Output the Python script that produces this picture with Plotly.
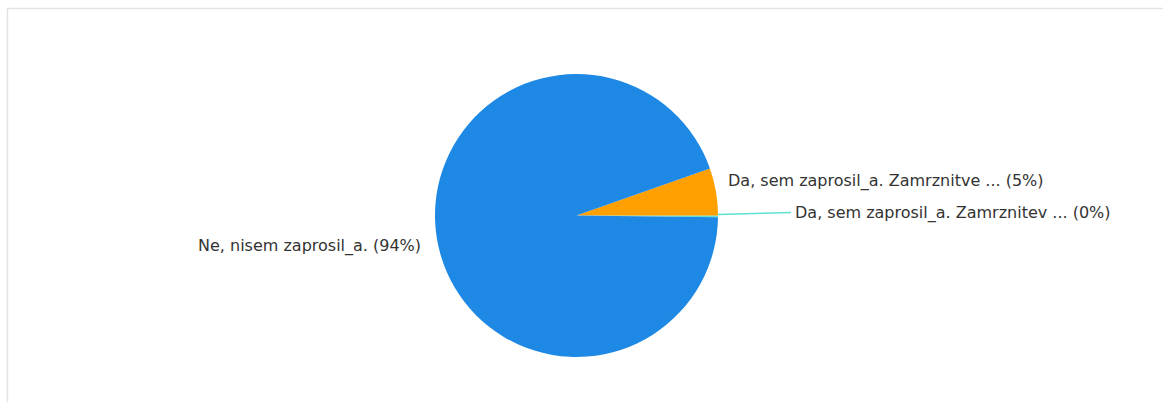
import math
import plotly.graph_objects as go

labels = ["Da, sem zaprosil_a. Zamrznitev ...", "Da, sem zaprosil_a. Zamrznitve ...", "Ne, nisem zaprosil_a."]
values = [0.2, 5.4, 94.4]
colors = ["#5fe0d0", "#ffa000", "#1e88e5"]

W, H = 1163, 402
cx, cy, r = 576.5, 215.5, 141.5

fig = go.Figure(go.Pie(
    labels=labels, values=values, sort=False, direction="counterclockwise",
    rotation=90, textinfo="none", hoverinfo="label+percent",
    marker=dict(colors=colors, line=dict(width=0)),
    domain=dict(x=[(cx - r) / W, (cx + r) / W], y=[(H - cy - r) / H, (H - cy + r) / H]),
    showlegend=False,
))

total = sum(values)
pcts = [round(v / total * 100) for v in values]

def px(x):
    return x / W

def py(y):
    return (H - y) / H

font = dict(family="DejaVu Sans, Verdana, sans-serif", size=16, color="#333333")

# mid-angles from data (counterclockwise from 3 o'clock)
cum = 0
mids = []
for v in values:
    a0 = cum / total * 360
    cum += v
    a1 = cum / total * 360
    mids.append((a0 + a1) / 2)

anns = []
shapes = []
# tiny slice: leader line to the right
a = math.radians(mids[0])
ex, ey = cx + r * math.cos(a), cy - r * math.sin(a)
shapes.append(dict(type="line", xref="paper", yref="paper", x0=px(ex), y0=py(ey),
                   x1=px(791), y1=py(212.5), line=dict(color=colors[0], width=1.5)))
anns.append(dict(x=px(793), y=py(213), xref="paper", yref="paper", xanchor="left", yanchor="middle",
                 text=f"{labels[0]} ({pcts[0]}%)", showarrow=False, font=font))
# orange slice label
anns.append(dict(x=px(725.5), y=py(181), xref="paper", yref="paper", xanchor="left", yanchor="middle",
                 text=f"{labels[1]} ({pcts[1]}%)", showarrow=False, font=font))
# blue slice label on the left
anns.append(dict(x=px(423), y=py(246), xref="paper", yref="paper", xanchor="right", yanchor="middle",
                 text=f"{labels[2]} ({pcts[2]}%)", showarrow=False, font=font))

# frame lines
shapes.append(dict(type="line", xref="paper", yref="paper", x0=px(7), y0=py(8.5), x1=1, y1=py(8.5),
                   line=dict(color="#e3e3e3", width=1.5)))
shapes.append(dict(type="line", xref="paper", yref="paper", x0=px(7.5), y0=py(8.5), x1=px(7.5), y1=0,
                   line=dict(color="#e3e3e3", width=1.5)))

fig.update_layout(
    width=W, height=H, margin=dict(l=0, r=0, t=0, b=0),
    paper_bgcolor="white", plot_bgcolor="white",
    annotations=anns, shapes=shapes,
)
fig.write_html("out.html", config={"displayModeBar": False},
               post_script="document.body.style.margin='0';document.body.style.overflow='hidden';")
